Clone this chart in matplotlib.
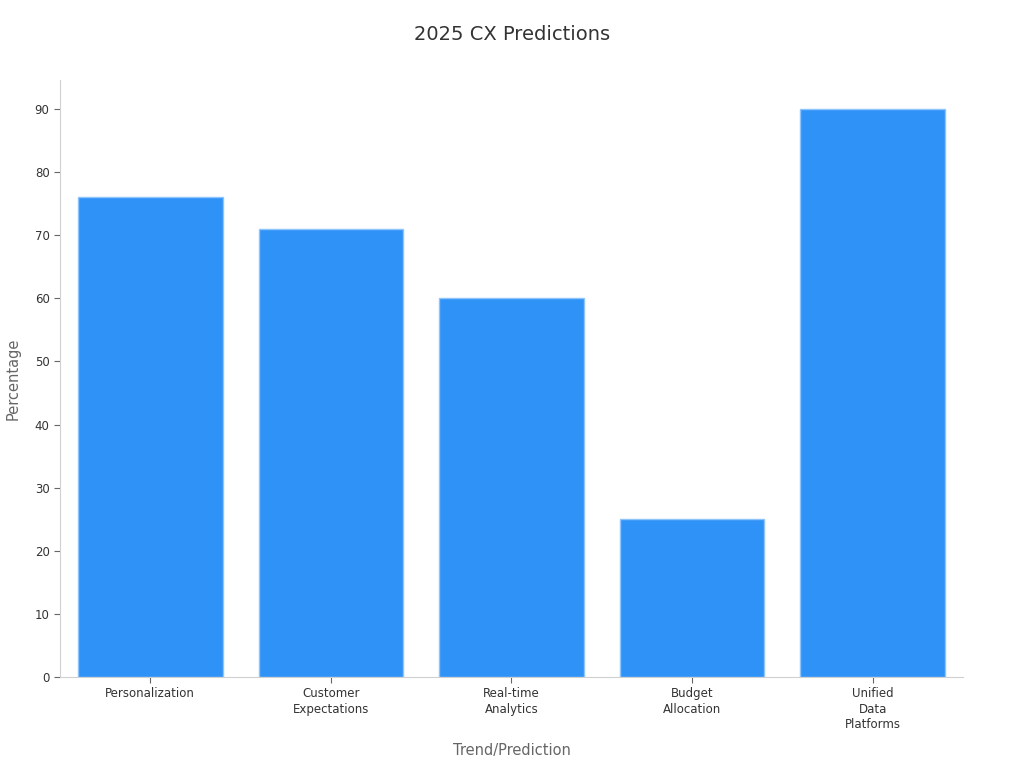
import matplotlib
matplotlib.use("Agg")
import matplotlib.pyplot as plt

plt.rcParams["font.family"] = ["DejaVu Sans"]

categories = ["Personalization", "Customer\nExpectations", "Real-time\nAnalytics",
              "Budget\nAllocation", "Unified\nData\nPlatforms"]
values = [76, 71, 60, 25, 90]

fig = plt.figure(figsize=(10.24, 7.68), dpi=100)
ax = fig.add_axes([0.0586, 0.1185, 0.8818, 0.7773])

ax.bar(range(len(categories)), values, width=0.8, color="#2F92F7",
       edgecolor="#8CC4FB", linewidth=1)

ax.set_xlim(-0.5, 4.5)
ax.set_ylim(0, 94.6)
ax.set_yticks(range(0, 91, 10))
ax.set_xticks(range(len(categories)))
ax.set_xticklabels(categories, fontsize=8.5, color="#333333", linespacing=1.25)
ax.tick_params(axis="y", labelsize=8.5, labelcolor="#333333", color="#666666", length=4)
ax.tick_params(axis="x", color="#666666", length=4)

for side in ["top", "right"]:
    ax.spines[side].set_visible(False)
for side in ["left", "bottom"]:
    ax.spines[side].set_color("#D0D0D0")

ax.set_ylabel("Percentage", fontsize=10.5, color="#666666", labelpad=10)
ax.set_xlabel("Trend/Prediction", fontsize=10.5, color="#666666", labelpad=8)
fig.suptitle("2025 CX Predictions", fontsize=14, color="#333333", y=0.968)

fig.savefig("out.png", dpi=100)
